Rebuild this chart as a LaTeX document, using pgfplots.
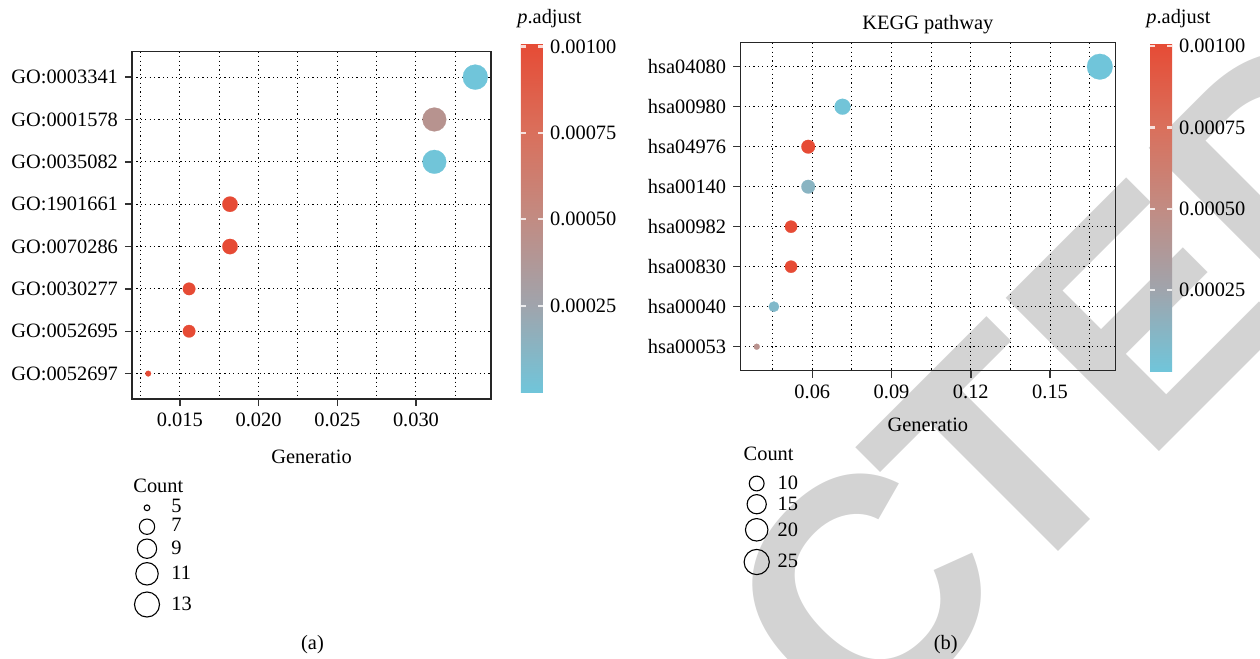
\documentclass[border=0pt]{standalone}
\usepackage{fontspec}
\setmainfont{Liberation Serif}
\newfontfamily\wmfamily{Liberation Sans}
\usepackage{pgfplots}
\usepackage{pgfplotstable}
\pgfplotsset{compat=1.18}

\newcommand\lab{\fontsize{10.2pt}{12pt}\selectfont}
\definecolor{wm}{RGB}{211,211,211}

% position in a 1260 x 659 grid (origin top left), 1 unit = 0.5pt
\newcommand\px[2]{({#1*0.5pt},{(659-#2)*0.5pt})}

\pgfplotsset{
  colormap={padj}{rgb255(0)=(112,197,218) rgb255(1)=(160,164,172)
    rgb255(2)=(194,139,130) rgb255(3)=(218,111,91) rgb255(4)=(230,75,53)},
  dotaxis/.style={
    scale only axis, anchor=south west,
    ymin=0.4, ymax=8.6, y dir=reverse, ytick={1,...,8},
    grid=both,
    major grid style={black, line width=0.5pt, dash pattern=on 0.6pt off 1.6pt},
    minor grid style={black, line width=0.5pt, dash pattern=on 0.6pt off 1.6pt},
    tick align=outside, tick pos=left,
    major tick length=3.5pt, minor tick length=0pt,
    tick style={black!80, line width=0.7pt},
    axis line style={black!85, line width=0.7pt},
    scaled x ticks=false,
    tick label style={font=\lab}, label style={font=\lab}, title style={font=\lab},
    colormap name=padj, point meta min=0, point meta max=0.00101,
    colorbar,
    /pgf/number format/assume math mode=true,
  },
  cbar/.style={
    at={(parent axis.north east)}, anchor=north west,
    scale only axis, width=11pt,
    ytick={0.00025,0.0005,0.00075,0.001},
    yticklabels={0.00025,0.00050,0.00075,0.00100},
    ytick pos=both, yticklabel pos=right,
    tick align=inside, major tick length=2.5pt,
    ytick style={draw=white, line width=1.1pt, draw opacity=0.8},
    axis line style={draw=none},
    axis on top,
    scaled y ticks=false,
    yticklabel style={font=\lab},
  },
  dots/.style={
    scatter, only marks, mark=*,
    point meta=\thisrow{p},
    scatter/use mapped color={draw=mapped color, fill=mapped color},
    mark options={line width=0.1pt},
    visualization depends on={\thisrow{count} \as \cnt},
  },
}

% GO terms: rank, gene ratio, count, adjusted p
\pgfplotstableread{
idx ratio count p
1 0.033766 13 0.000001
2 0.031169 12 0.000425
3 0.031169 12 0.000003
4 0.018182 7 0.00101
5 0.018182 7 0.00101
6 0.015584 6 0.00101
7 0.015584 6 0.00101
8 0.012987 5 0.00101
}\tabGO

% KEGG pathways: rank, gene ratio, count, adjusted p
\pgfplotstableread{
idx ratio count p
1 0.168831 26 0.000001
2 0.071429 11 0.00001
3 0.058442 9 0.00101
4 0.058442 9 0.00013
5 0.051948 8 0.00101
6 0.051948 8 0.00101
7 0.045455 7 0.00009
8 0.038961 6 0.00044
}\tabKEGG

\begin{document}
\begin{tikzpicture}[font=\lab]
\useasboundingbox (0,0) rectangle (630pt,329.5pt);
\clip (0,0) rectangle (630pt,329.5pt);

% stamp
\begin{scope}[every node/.style={inner sep=0pt, outer sep=0pt, text=wm,
    font=\wmfamily\bfseries\fontsize{157.5pt}{160pt}\selectfont,
    rotate=45, anchor=base west}]
  \node at \px{859}{750} {C};
  \node at \px{1006}{604} {T};
  \node at \px{1144}{467} {E};
  \node at \px{1287}{317} {D};
\end{scope}

% size keys and free text
\begin{axis}[at={(0pt,0pt)}, anchor=south west, scale only axis,
  width=630pt, height=329.5pt, xmin=0, xmax=1260, ymin=0, ymax=659,
  y dir=reverse, hide axis, clip=false]
  \addplot[scatter, only marks, mark=o, point meta=\thisrow{count},
    scatter/use mapped color={draw=black}, mark options={line width=0.55pt},
    visualization depends on={\thisrow{count} \as \cnt},
    scatter/@pre marker code/.append style={/tikz/mark size={(5.7+19.3*sqrt((\cnt-5)/8))/4}}]
    table[x=x, y=y] {
    x y count
    147 507.8 5
    147 526.7 7
    147 548.7 9
    147 573.8 11
    147 604.5 13
  };
  \addplot[scatter, only marks, mark=o, point meta=\thisrow{count},
    scatter/use mapped color={draw=black}, mark options={line width=0.55pt},
    visualization depends on={\thisrow{count} \as \cnt},
    scatter/@pre marker code/.append style={/tikz/mark size={(6+19.7*sqrt((\cnt-6)/20))/4}}]
    table[x=x, y=y] {
    x y count
    756.7 483.5 10
    756.7 504.2 15
    756.7 529.8 20
    756.7 562.0 25
  };
  \begin{scope}[every node/.style={anchor=base west, inner sep=0pt}]
    \node at (axis cs:133,492.3) {Count};
    \node at (axis cs:171,512.7) {5};
    \node at (axis cs:171,531) {7};
    \node at (axis cs:171,554.3) {9};
    \node at (axis cs:171,579.3) {11};
    \node at (axis cs:171,610) {13};
    \node at (axis cs:743.3,460.7) {Count};
    \node at (axis cs:777.3,489.3) {10};
    \node at (axis cs:777.3,510.7) {15};
    \node at (axis cs:777.3,536.7) {20};
    \node at (axis cs:777.3,567.3) {25};
    \node at (axis cs:517,23.3) {\textit{p}.adjust};
    \node at (axis cs:1146,23.3) {\textit{p}.adjust};
  \end{scope}
  \node[anchor=base, inner sep=0pt] at (axis cs:312.5,649) {(a)};
  \node[anchor=base, inner sep=0pt] at (axis cs:945.8,649) {(b)};
\end{axis}

% (a) GO enrichment
\begin{axis}[dotaxis,
  at={(66pt,130pt)}, width=179.5pt, height=173.65pt,
  xmin=0.011957, xmax=0.034765,
  xtick={0.015,0.020,0.025,0.030}, xticklabels={0.015,0.020,0.025,0.030},
  minor xtick={0.0125,0.0175,0.0225,0.0275,0.0325},
  yticklabels={GO:0003341,GO:0001578,GO:0035082,GO:1901661,GO:0070286,GO:0030277,GO:0052695,GO:0052697},
  xlabel={Generatio},
  xlabel style={at={(axis description cs:0.5,0)}, anchor=base, yshift=-32pt},
  colorbar style={cbar, xshift=6.46pt, yshift=4.35pt, height=174.5pt},
]
  \addplot[dots,
    scatter/@pre marker code/.append style={/tikz/mark size={(5.7+19.3*sqrt((\cnt-5)/8))/4}}]
    table[x=ratio, y=idx] {\tabGO};
\end{axis}

% (b) KEGG enrichment
\begin{axis}[dotaxis,
  at={(370.1pt,144.15pt)}, width=187.7pt, height=164pt,
  xmin=0.0327, xmax=0.1748,
  xtick={0.06,0.09,0.12,0.15}, xticklabels={0.06,0.09,0.12,0.15},
  minor xtick={0.045,0.075,0.105,0.135,0.165},
  yticklabels={hsa04080,hsa00980,hsa04976,hsa00140,hsa00982,hsa00830,hsa00040,hsa00053},
  title={KEGG pathway},
  title style={at={(axis description cs:0.5,1)}, anchor=base, yshift=0.6pt},
  xlabel={Generatio},
  xlabel style={at={(axis description cs:0.5,0)}, anchor=base, yshift=-30.5pt},
  colorbar style={cbar, xshift=8.66pt, yshift=-0.15pt, height=164pt},
]
  \addplot[dots,
    scatter/@pre marker code/.append style={/tikz/mark size={(6+19.7*sqrt((\cnt-6)/20))/4}}]
    table[x=ratio, y=idx] {\tabKEGG};
\end{axis}
\end{tikzpicture}
\end{document}
